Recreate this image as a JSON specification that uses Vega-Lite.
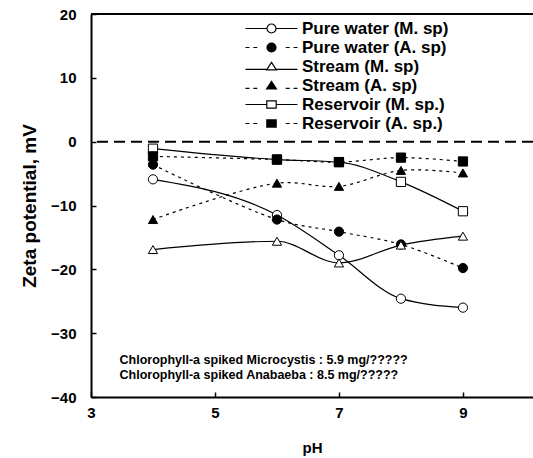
{
  "$schema": "https://vega.github.io/schema/vega-lite/v6.json",
  "width": 442,
  "height": 383,
  "autosize": {"type": "none"},
  "padding": {"left": 91, "top": 14, "right": 0, "bottom": 61},
  "background": "white",
  "config": {
    "view": {"stroke": null},
    "font": "Liberation Sans",
    "axis": {
      "grid": false,
      "domainColor": "black",
      "domainWidth": 2,
      "tickColor": "black",
      "tickWidth": 1.5,
      "tickSize": -5,
      "labelFlush": false,
      "labelColor": "black",
      "labelFont": "Liberation Sans",
      "labelFontWeight": "bold",
      "labelFontSize": 15,
      "titleColor": "black",
      "titleFont": "Liberation Sans",
      "titleFontWeight": "bold"
    },
    "axisX": {"labelPadding": 13, "titleFontSize": 15, "titlePadding": 20},
    "axisY": {"labelPadding": 20, "titleFontSize": 19, "titlePadding": 11}
  },
  "datasets": {
    "zeta": [
      {"pH": 4, "zeta": -5.9, "series": "Pure water (M. sp)", "group": "M"},
      {"pH": 6, "zeta": -11.5, "series": "Pure water (M. sp)", "group": "M"},
      {"pH": 7, "zeta": -17.8, "series": "Pure water (M. sp)", "group": "M"},
      {"pH": 8, "zeta": -24.6, "series": "Pure water (M. sp)", "group": "M"},
      {"pH": 9, "zeta": -26.0, "series": "Pure water (M. sp)", "group": "M"},
      {"pH": 4, "zeta": -3.6, "series": "Pure water (A. sp)", "group": "A"},
      {"pH": 6, "zeta": -12.2, "series": "Pure water (A. sp)", "group": "A"},
      {"pH": 7, "zeta": -14.1, "series": "Pure water (A. sp)", "group": "A"},
      {"pH": 8, "zeta": -16.1, "series": "Pure water (A. sp)", "group": "A"},
      {"pH": 9, "zeta": -19.8, "series": "Pure water (A. sp)", "group": "A"},
      {"pH": 4, "zeta": -16.9, "series": "Stream (M. sp)", "group": "M"},
      {"pH": 6, "zeta": -15.6, "series": "Stream (M. sp)", "group": "M"},
      {"pH": 7, "zeta": -19.0, "series": "Stream (M. sp)", "group": "M"},
      {"pH": 8, "zeta": -16.2, "series": "Stream (M. sp)", "group": "M"},
      {"pH": 9, "zeta": -14.8, "series": "Stream (M. sp)", "group": "M"},
      {"pH": 4, "zeta": -12.2, "series": "Stream (A. sp)", "group": "A"},
      {"pH": 6, "zeta": -6.5, "series": "Stream (A. sp)", "group": "A"},
      {"pH": 7, "zeta": -7.0, "series": "Stream (A. sp)", "group": "A"},
      {"pH": 8, "zeta": -4.5, "series": "Stream (A. sp)", "group": "A"},
      {"pH": 9, "zeta": -4.9, "series": "Stream (A. sp)", "group": "A"},
      {"pH": 4, "zeta": -1.1, "series": "Reservoir (M. sp.)", "group": "M"},
      {"pH": 6, "zeta": -2.8, "series": "Reservoir (M. sp.)", "group": "M"},
      {"pH": 7, "zeta": -3.2, "series": "Reservoir (M. sp.)", "group": "M"},
      {"pH": 8, "zeta": -6.3, "series": "Reservoir (M. sp.)", "group": "M"},
      {"pH": 9, "zeta": -10.9, "series": "Reservoir (M. sp.)", "group": "M"},
      {"pH": 4, "zeta": -2.3, "series": "Reservoir (A. sp.)", "group": "A"},
      {"pH": 6, "zeta": -2.8, "series": "Reservoir (A. sp.)", "group": "A"},
      {"pH": 7, "zeta": -3.2, "series": "Reservoir (A. sp.)", "group": "A"},
      {"pH": 8, "zeta": -2.5, "series": "Reservoir (A. sp.)", "group": "A"},
      {"pH": 9, "zeta": -3.1, "series": "Reservoir (A. sp.)", "group": "A"}
    ],
    "notes": [
      {"pH": 3.46, "zeta": -34.2, "label": "Chlorophyll-a spiked Microcystis : 5.9 mg/?????"},
      {"pH": 3.46, "zeta": -36.5, "label": "Chlorophyll-a spiked Anabaeba : 8.5 mg/?????"}
    ]
  },
  "layer": [
    {
      "data": {"values": [{}]},
      "mark": {"type": "rule", "color": "black", "strokeWidth": 2},
      "encoding": {
        "y": {"datum": 20, "type": "quantitative", "scale": {"domain": [-40, 20]}, "title": "Zeta potential, mV"}
      }
    },
    {
      "data": {"values": [{}]},
      "mark": {"type": "rule", "color": "black", "strokeWidth": 2, "strokeDash": [11, 6]},
      "encoding": {
        "y": {"datum": 0, "type": "quantitative", "scale": {"domain": [-40, 20]}, "title": "Zeta potential, mV"}
      }
    },
    {
      "data": {"name": "zeta"},
      "transform": [{"filter": "datum.group == 'M'"}],
      "mark": {"type": "line", "color": "black", "strokeWidth": 1.2, "interpolate": "monotone"},
      "encoding": {
        "x": {"field": "pH", "type": "quantitative", "scale": {"domain": [3, 10.13], "nice": false}, "axis": {"values": [3, 5, 7, 9], "format": "d"}, "title": "pH"},
        "y": {"field": "zeta", "type": "quantitative", "scale": {"domain": [-40, 20]}, "axis": {"values": [-40, -30, -20, -10, 0, 10, 20], "format": "d"}, "title": "Zeta potential, mV"},
        "detail": {"field": "series"}
      }
    },
    {
      "data": {"name": "zeta"},
      "transform": [{"filter": "datum.group == 'A'"}],
      "mark": {"type": "line", "color": "black", "strokeWidth": 1.2, "strokeDash": [3, 4], "interpolate": "catmull-rom"},
      "encoding": {
        "x": {"field": "pH", "type": "quantitative", "scale": {"domain": [3, 10.13], "nice": false}, "title": "pH"},
        "y": {"field": "zeta", "type": "quantitative", "scale": {"domain": [-40, 20]}, "title": "Zeta potential, mV"},
        "detail": {"field": "series"}
      }
    },
    {
      "data": {"name": "zeta"},
      "mark": {"type": "point", "filled": true, "stroke": "black", "strokeWidth": 1, "size": 85, "opacity": 1},
      "encoding": {
        "x": {"field": "pH", "type": "quantitative", "scale": {"domain": [3, 10.13], "nice": false}, "title": "pH"},
        "y": {"field": "zeta", "type": "quantitative", "scale": {"domain": [-40, 20]}, "title": "Zeta potential, mV"},
        "shape": {
          "field": "series", "type": "nominal", "legend": null,
          "scale": {
            "domain": ["Pure water (M. sp)", "Pure water (A. sp)", "Stream (M. sp)", "Stream (A. sp)", "Reservoir (M. sp.)", "Reservoir (A. sp.)"],
            "range": ["circle", "circle", "triangle-up", "triangle-up", "square", "square"]
          }
        },
        "fill": {
          "field": "series", "type": "nominal", "legend": null,
          "scale": {
            "domain": ["Pure water (M. sp)", "Pure water (A. sp)", "Stream (M. sp)", "Stream (A. sp)", "Reservoir (M. sp.)", "Reservoir (A. sp.)"],
            "range": ["white", "black", "white", "black", "white", "black"]
          }
        }
      }
    },
    {
      "data": {"name": "zeta"},
      "transform": [{"filter": "datum.pH > 100"}],
      "mark": {"type": "point", "filled": false, "color": "black", "strokeWidth": 1.2, "size": 384, "opacity": 1},
      "encoding": {
        "x": {"field": "pH", "type": "quantitative", "scale": {"domain": [3, 10.13], "nice": false}, "title": "pH"},
        "y": {"field": "zeta", "type": "quantitative", "scale": {"domain": [-40, 20]}, "title": "Zeta potential, mV"},
        "shape": {
          "field": "series", "type": "nominal",
          "scale": {
            "domain": ["Pure water (M. sp)", "Pure water (A. sp)", "Stream (M. sp)", "Stream (A. sp)", "Reservoir (M. sp.)", "Reservoir (A. sp.)"],
            "range": [
              "M-2.65,0L-0.46,0M0.46,0L2.65,0M-0.46,0A0.46,0.46,0,1,0,0.46,0A0.46,0.46,0,1,0,-0.46,0Z",
              "M-2.65,0L-2.25,0M-1.85,0L-1.45,0M1.45,0L1.85,0M2.25,0L2.65,0M-0.46,0A0.46,0.46,0,1,0,0.46,0A0.46,0.46,0,1,0,-0.46,0ZM-0.38,0A0.38,0.38,0,1,0,0.38,0A0.38,0.38,0,1,0,-0.38,0ZM-0.3,0A0.3,0.3,0,1,0,0.3,0A0.3,0.3,0,1,0,-0.3,0ZM-0.22,0A0.22,0.22,0,1,0,0.22,0A0.22,0.22,0,1,0,-0.22,0ZM-0.14,0A0.14,0.14,0,1,0,0.14,0A0.14,0.14,0,1,0,-0.14,0ZM-0.06,0A0.06,0.06,0,1,0,0.06,0A0.06,0.06,0,1,0,-0.06,0Z",
              "M-2.65,0.3L-0.5,0.3M0.5,0.3L2.65,0.3M0,-0.42L0.5,0.35L-0.5,0.35Z",
              "M-2.65,0.3L-2.25,0.3M-1.85,0.3L-1.45,0.3M1.45,0.3L1.85,0.3M2.25,0.3L2.65,0.3M0,-0.42L0.5,0.35L-0.5,0.35ZM0,-0.317L0.4,0.299L-0.4,0.299ZM0,-0.215L0.3,0.247L-0.3,0.247ZM0,-0.112L0.2,0.196L-0.2,0.196ZM0,-0.01L0.1,0.144L-0.1,0.144Z",
              "M-2.65,0L-0.48,0M0.48,0L2.65,0M-0.48,-0.38L0.48,-0.38L0.48,0.38L-0.48,0.38Z",
              "M-2.65,0L-2.25,0M-1.85,0L-1.45,0M1.45,0L1.85,0M2.25,0L2.65,0M-0.48,-0.38L0.48,-0.38L0.48,0.38L-0.48,0.38ZM-0.48,-0.28L0.48,-0.28M-0.48,-0.18L0.48,-0.18M-0.48,-0.08L0.48,-0.08M-0.48,0.02L0.48,0.02M-0.48,0.12L0.48,0.12M-0.48,0.22L0.48,0.22M-0.48,0.31L0.48,0.31"
            ]
          },
          "legend": {
            "title": null,
            "orient": "none",
            "legendX": 170,
            "legendY": 4,
            "padding": 0,
            "symbolSize": 384,
            "symbolStrokeColor": "black",
            "symbolStrokeWidth": 1.2,
            "symbolOpacity": 1,
            "labelOffset": 20,
            "labelFont": "Liberation Sans",
            "labelFontWeight": "bold",
            "labelFontSize": 17,
            "labelColor": "black",
            "labelLimit": 300,
            "rowPadding": 0
          }
        }
      }
    },
    {
      "data": {"name": "notes"},
      "mark": {"type": "text", "align": "left", "baseline": "middle", "font": "Liberation Sans", "fontWeight": "bold", "fontSize": 12.5, "color": "black"},
      "encoding": {
        "x": {"field": "pH", "type": "quantitative", "scale": {"domain": [3, 10.13], "nice": false}, "title": "pH"},
        "y": {"field": "zeta", "type": "quantitative", "scale": {"domain": [-40, 20]}, "title": "Zeta potential, mV"},
        "text": {"field": "label"}
      }
    }
  ],
  "resolve": {"scale": {"shape": "independent", "fill": "independent"}}
}
